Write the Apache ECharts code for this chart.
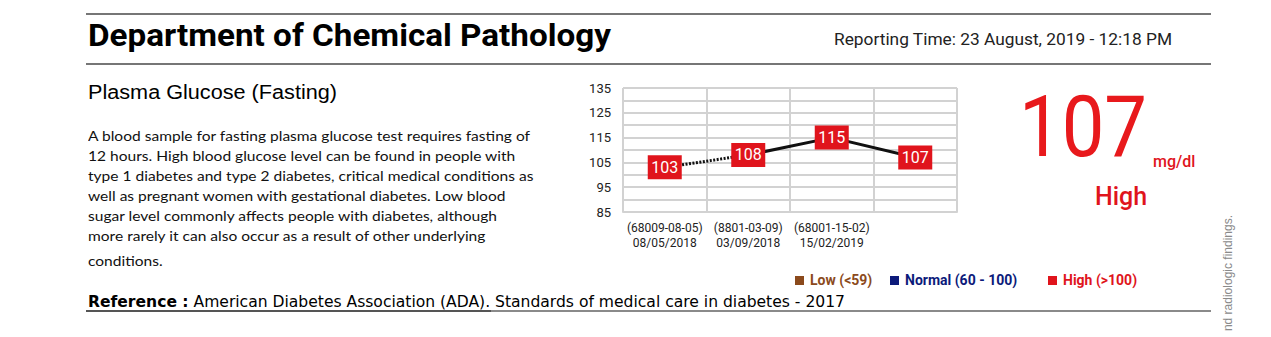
<!DOCTYPE html>
<html>
<head>
<meta charset="utf-8">
<script src="https://cdn.jsdelivr.net/npm/echarts@6/dist/echarts.min.js"></script>
<style>
html,body{margin:0;padding:0;background:#fff;width:1271px;height:337px;overflow:hidden;position:relative;}
.t{position:absolute;white-space:nowrap;transform-origin:left center;}
.hl{position:absolute;height:2px;background:#767676;}
#chart{position:absolute;left:0;top:0;width:1271px;height:337px;}
.sq{display:inline-block;width:9px;height:9px;margin-right:6px;vertical-align:0px;}
</style>
</head>
<body>
<div class="hl" style="left:86px;top:13px;width:1125px;"></div>
<div class="hl" style="left:86px;top:63px;width:1125px;"></div>
<div class="hl" style="left:86px;top:310px;width:1125px;background:#8a8a8a;"></div>
<div class="hl" style="left:86px;top:310px;width:405px;background:#555;"></div>

<div id="chart"></div>

<div class="t" data-w="523" style="left:88px;top:18px;font:bold 31px Roboto;line-height:36px;color:#000;">Department of Chemical Pathology</div>
<div class="t" data-w="338" style="left:834px;top:30px;font:16px Roboto;line-height:20px;color:#222;">Reporting Time: 23 August, 2019 - 12:18 PM</div>
<div class="t" data-w="249" style="left:88px;top:79px;font:20px 'Liberation Sans';line-height:26px;color:#000;">Plasma Glucose (Fasting)</div>

<div class="t" data-w="442" style="left:88px;top:126px;font:14px Lato;line-height:20px;color:#111;">A blood sample for fasting plasma glucose test requires fasting of</div>
<div class="t" data-g="1" style="left:88px;top:146px;font:14px Lato;line-height:20px;color:#111;">12 hours. High blood glucose level can be found in people with</div>
<div class="t" data-g="1" style="left:88px;top:166px;font:14px Lato;line-height:20px;color:#111;">type 1 diabetes and type 2 diabetes, critical medical conditions as</div>
<div class="t" data-g="1" style="left:88px;top:186px;font:14px Lato;line-height:20px;color:#111;">well as pregnant women with gestational diabetes. Low blood</div>
<div class="t" data-g="1" style="left:88px;top:206px;font:14px Lato;line-height:20px;color:#111;">sugar level commonly affects people with diabetes, although</div>
<div class="t" data-g="1" style="left:88px;top:226px;font:14px Lato;line-height:20px;color:#111;">more rarely it can also occur as a result of other underlying</div>
<div class="t" data-g="1" style="left:88px;top:251px;font:14px Lato;line-height:20px;color:#111;">conditions.</div>

<div class="t" data-w="757" style="left:88px;top:292px;font:16px 'DejaVu Sans';line-height:20px;color:#000;"><b>Reference :</b> American Diabetes Association (ADA). Standards of medical care in diabetes - 2017</div>

<div class="t" style="left:795px;top:271px;font:bold 14px Roboto;line-height:18px;">
<span style="color:#8b4a1c"><span class="sq" style="background:#8b4a1c"></span>Low (&lt;59)</span>
</div>
<div class="t" style="left:890px;top:271px;font:bold 14px Roboto;line-height:18px;">
<span style="color:#0c1a7a"><span class="sq" style="background:#0c1a7a"></span>Normal (60 - 100)</span>
</div>
<div class="t" style="left:1048px;top:271px;font:bold 14px Roboto;line-height:18px;">
<span style="color:#e0141c"><span class="sq" style="background:#e0141c"></span>High (&gt;100)</span>
</div>

<div class="t" data-w="128" style="left:1019px;top:77px;font:86px Roboto;line-height:100px;color:#e8191c;">107</div>
<div class="t" style="left:1153px;top:152px;font:500 16px Roboto;line-height:20px;color:#e0141c;">mg/dl</div>
<div class="t" style="left:1095px;top:182px;font:500 25px Roboto;line-height:30px;color:#e0141c;">High</div>

<div style="position:absolute;left:1163px;top:273px;width:130px;height:14px;font:12px 'Liberation Sans';line-height:14px;color:#8a8a8a;white-space:nowrap;transform:rotate(-90deg);transform-origin:center center;text-align:right;">nd radiologic findings.</div>

<script>
// ---- data ----
var categories = ['(68009-08-05)\n08/05/2018', '(8801-03-09)\n03/09/2018', '(68001-15-02)\n15/02/2019', ''];
var glucoseValues = [103, 108, 115, 107];
var dottedSegment = [103, 108, null, null];
var solidSegment = [null, 108, 115, 107];
var yMin = 85, yMax = 135, yStep = 5;

// ---- fit text widths ----
(function(){
  var els = document.querySelectorAll('.t[data-w]');
  var lastScale = 1;
  els.forEach(function(el){
    var w = el.getBoundingClientRect().width;
    var s = parseFloat(el.getAttribute('data-w')) / w;
    el.style.transform = 'scaleX(' + s + ')';
    if (el.textContent.indexOf('A blood sample') === 0) lastScale = s;
  });
  document.querySelectorAll('.t[data-g]').forEach(function(el){
    el.style.transform = 'scaleX(' + lastScale + ')';
  });
})();

var chart = echarts.init(document.getElementById('chart'), null, {renderer: 'svg'});
chart.setOption({
  animation: false,
  backgroundColor: 'transparent',
  grid: {left: 623, top: 88, width: 334, height: 124, containLabel: false},
  xAxis: {
    type: 'category',
    data: categories,
    boundaryGap: true,
    axisLine: {show: true, lineStyle: {color: '#d2d2d2', width: 2}},
    axisTick: {show: false},
    splitLine: {show: true, lineStyle: {color: '#d2d2d2', width: 2}},
    axisLabel: {color: '#222', fontFamily: 'Roboto', fontSize: 12, lineHeight: 15, margin: 8, interval: 0}
  },
  yAxis: {
    type: 'value',
    min: yMin, max: yMax, interval: yStep,
    axisLine: {show: false},
    axisTick: {show: false},
    splitLine: {show: true, lineStyle: {color: '#d2d2d2', width: 2}},
    axisLabel: {
      color: '#222', fontFamily: 'Roboto', fontSize: 13, margin: 12,
      formatter: function(v){ return ((v - yMin) % 10 === 0) ? String(v) : ''; }
    }
  },
  series: [
    {type: 'line', data: dottedSegment, symbol: 'none', z: 2,
     lineStyle: {color: '#111', width: 3, type: [2, 1.5]}},
    {type: 'line', data: solidSegment, symbol: 'none', z: 2,
     lineStyle: {color: '#111', width: 3}},
    {type: 'scatter', data: glucoseValues, symbol: 'rect', symbolSize: [34, 24], z: 5,
     itemStyle: {color: '#e0141c', opacity: 1},
     label: {show: true, position: 'inside', color: '#fff', fontFamily: 'Roboto', fontSize: 16}}
  ]
});
</script>
</body>
</html>
